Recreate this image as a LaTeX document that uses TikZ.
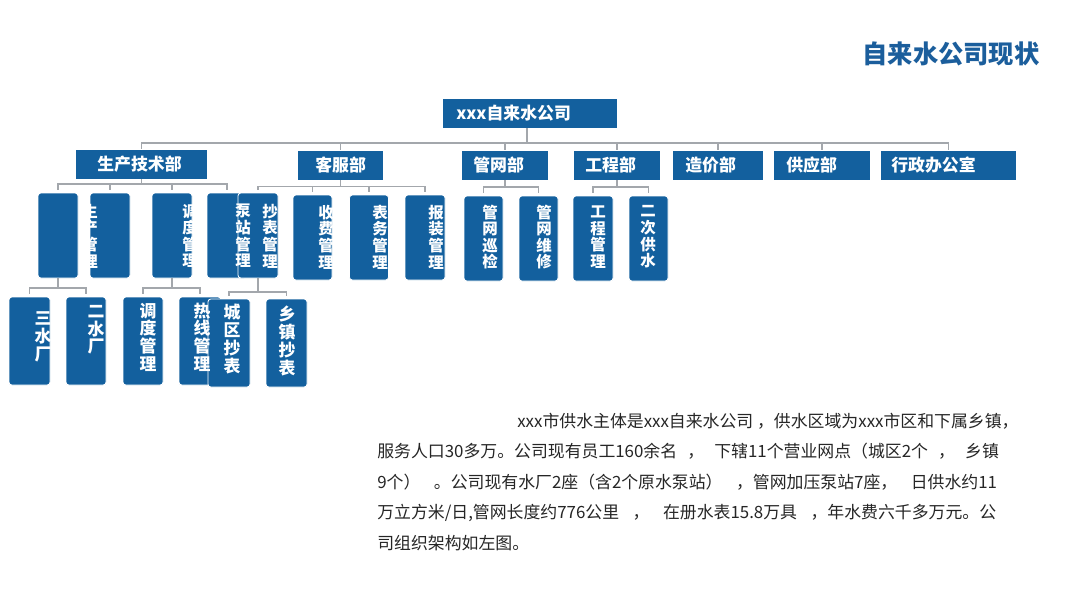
\documentclass[tikz,border=0pt]{standalone}
\usepackage{fontspec}
\setmainfont{Noto Sans CJK SC}
\usetikzlibrary{positioning}
\definecolor{Blue}{HTML}{13609E}
\definecolor{TitleBlue}{HTML}{1B5E9C}
\definecolor{LineGrey}{HTML}{A3A7AC}
\definecolor{TextGrey}{HTML}{262626}
\newcommand\pxu{0.025cm}
\newcommand\wsp{\hspace{0.8em}}
\newcommand\nsp{\hspace{0.6em}}

\begin{document}
\begin{tikzpicture}[x=\pxu,y=-\pxu,
  hbox/.style={fill=Blue,draw=white,line width=0.4pt,anchor=west,text=white,
    font=\bfseries\fontsize{12}{14}\selectfont,minimum height=30*\pxu,align=left,
    inner ysep=0pt},
  vbox/.style 2 args={fill=Blue,draw=white,line width=0.6pt,rounded corners=2pt,
    minimum width=#1*\pxu,minimum height=#2*\pxu,inner sep=0pt},
  vtxt/.style={text=white,font=\bfseries\fontsize{11}{11.8}\selectfont,align=center,
    inner sep=0pt},
  ltxt/.style={vtxt,font=\bfseries\fontsize{12}{12.6}\selectfont},
  para/.style={text=TextGrey,font=\fontsize{12}{21.6}\selectfont,align=left,
    inner sep=0pt,anchor=north west},
  conn/.style={draw=LineGrey,line width=1.1pt},
  gap/.style={shorten <=3*\pxu},
  gaps/.style={shorten <=3*\pxu,shorten >=3*\pxu}
]
  \fill[white] (0,0) rectangle (1080,608);
  \useasboundingbox (0,0) rectangle (1080,608);

  % Title
  \node[text=TitleBlue,font=\bfseries\fontsize{18}{20}\selectfont] (title) at (951,54) {自来水公司现状};

  % Company and departments
  \node[hbox,inner xsep=14*\pxu,text width=147*\pxu] (top) at (442,113) {xxx自来水公司};
  \node[hbox,inner xsep=22*\pxu,text width=88*\pxu] (d1) at (75,164) {生产技术部};
  \node[hbox,inner xsep=18*\pxu,text width=50*\pxu] (d2) at (297,165) {客服部};
  \node[hbox,inner xsep=12*\pxu,text width=63*\pxu] (d3) at (461,165) {管网部};
  \node[hbox,inner xsep=12*\pxu,text width=63*\pxu] (d4) at (573,165) {工程部};
  \node[hbox,inner xsep=13*\pxu,text width=65*\pxu] (d5) at (672,165) {造价部};
  \node[hbox,inner xsep=13*\pxu,text width=71*\pxu] (d6) at (773,165) {供应部};
  \node[hbox,inner xsep=11*\pxu,text width=114*\pxu] (d7) at (880,165) {行政办公室};

  \coordinate (mb) at (527,143);
  \draw[conn] (mb |- top.south) -- (mb);
  \draw[conn] (d1.north) |- (mb) -| (d7.north);
  \foreach \d in {d2,d3,d4,d5,d6}
    \draw[conn] (\d.north) -- (\d.north |- mb);

  % Sections
  \node[vbox={40}{85}] (b1) at (58,235.5) {};
  \node[vbox={40}{85}] (b2) at (110,235.5) {};
  \node[vbox={40}{85}] (b3) at (172,235.5) {};
  \node[vbox={40}{85}] (b4) at (227,235.5) {};
  \node[vbox={40}{85}] (k1) at (258,235.5) {};
  \node[vbox={39}{85}] (k2) at (312.5,237.5) {};
  \node[vbox={39}{85}] (k3) at (369,237.5) {};
  \node[vbox={40}{85}] (k4) at (425,237.5) {};
  \node[vbox={39}{85}] (g1) at (483.5,238.5) {};
  \node[vbox={39}{85}] (g2) at (538.5,238.5) {};
  \node[vbox={40}{85}] (e1) at (593,238.5) {};
  \node[vbox={39}{85}] (e2) at (648.5,238.5) {};

  \coordinate (bar1) at (142,184);
  \coordinate (bar2) at (340,186.5);
  \coordinate (bar3) at (504,187);
  \coordinate (bar4) at (616,187);
  \draw[conn] (d1.south) -- (d1.south |- bar1);
  \draw[conn,gaps] (b1.north) |- (bar1) -| (b4.north);
  \foreach \c in {b2,b3} \draw[conn,gap] (\c.north) -- (\c.north |- bar1);
  \draw[conn] (d2.south) -- (d2.south |- bar2);
  \draw[conn,gaps] (k1.north) |- (bar2) -| (k4.north);
  \foreach \c in {k2,k3} \draw[conn,gap] (\c.north) -- (\c.north |- bar2);
  \draw[conn] (d3.south) -- (d3.south |- bar3);
  \draw[conn,gaps] (g1.north) |- (bar3) -| (g2.north);
  \draw[conn] (d4.south) -- (d4.south |- bar4);
  \draw[conn,gaps] (e1.north) |- (bar4) -| (e2.north);

  % Units
  \node[vbox={41}{88}] (s1) at (29.5,341) {};
  \node[vbox={40}{88}] (s2) at (86,341) {};
  \node[vbox={40}{88}] (s3) at (143,341) {};
  \node[vbox={42}{88}] (s4) at (200,341) {};
  \node[vbox={42}{88}] (t1) at (229,343) {};
  \node[vbox={41}{88}] (t2) at (286.5,343) {};

  \coordinate (bar5) at (58,288);
  \coordinate (bar6) at (171,288);
  \coordinate (bar7) at (258,292);
  \draw[conn] (b1.south) -- (b1.south |- bar5);
  \draw[conn,gaps] (s1.north) |- (bar5) -| (s2.north);
  \draw[conn] (b3.south) -- (b3.south |- bar6);
  \draw[conn,gaps] (s3.north) |- (bar6) -| (s4.north);
  \draw[conn] (k1.south) -- (k1.south |- bar7);
  \draw[conn,gaps] (t1.north) |- (bar7) -| (t2.north);

  % Box texts
  \node[vtxt] (tb1) at (90,236) {生\\产\\管\\理};
  \node[vtxt] (tb3) at (190,236) {调\\度\\管\\理};
  \node[vtxt] (tb4) at (243,236) {泵\\站\\管\\理};
  \node[vtxt] (tk1) at (270,236) {抄\\表\\管\\理};
  \node[vtxt] (tk2) at (326,237) {收\\费\\管\\理};
  \node[vtxt] (tk3) at (380,237) {表\\务\\管\\理};
  \node[vtxt] (tk4) at (436,237) {报\\装\\管\\理};
  \node[vtxt] (tg1) at (490,237) {管\\网\\巡\\检};
  \node[vtxt] (tg2) at (544,237) {管\\网\\维\\修};
  \node[vtxt] (te1) at (598,237) {工\\程\\管\\理};
  \node[vtxt] (te2) at (648,237) {二\\次\\供\\水};
  \node[ltxt] (ts1) at (43,337) {三\\水\\厂};
  \node[ltxt] (ts2) at (96,330) {二\\水\\厂};
  \node[ltxt] (ts3) at (148,337) {调\\度\\管\\理};
  \node[ltxt] (ts4) at (202,337) {热\\线\\管\\理};
  \node[ltxt] (tt1) at (232,339) {城\\区\\抄\\表};
  \node[ltxt] (tt2) at (287,341) {乡\\镇\\抄\\表};

  % Description
  \node[para] (desc) at (377,413) {\hspace*{3.5cm}xxx市供水主体是xxx自来水公司 ，供水区域为xxx市区和下属乡镇，\\
    服务人口30多万。公司现有员工160余名\nsp{}，\nsp{}下辖11个营业网点（城区2个\nsp{}，\nsp{}乡镇\\
    9个）\wsp{}。公司现有水厂2座（含2个原水泵站）\wsp{}，管网加压泵站7座，\wsp{}日供水约11\\
    万立方米/日,管网长度约776公里\wsp{}，\wsp{}在册水表15.8万具\wsp{}，年水费六千多万元。公\\
    司组织架构如左图。};
\end{tikzpicture}
\end{document}
